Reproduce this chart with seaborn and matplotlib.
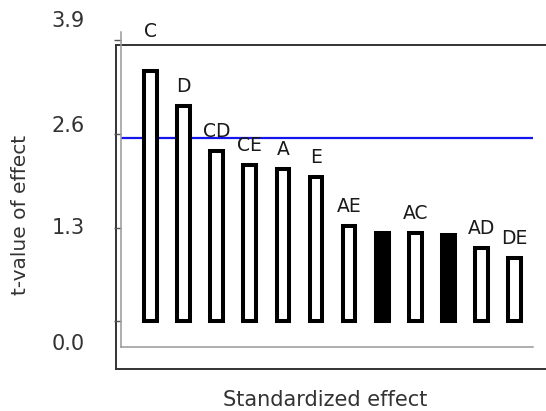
import matplotlib
matplotlib.use("Agg")
import matplotlib.pyplot as plt
import matplotlib.transforms as mtransforms
import seaborn as sns
import pandas as pd

# ---- data ----
effects = ["C", "D", "CD", "CE", "A", "E", "AE", "", "AC", "", "AD", "DE"]
t_values = [3.47, 2.99, 2.37, 2.17, 2.12, 2.01, 1.33, 1.23, 1.23, 1.20, 1.02, 0.88]
filled = [False, False, False, False, False, False, False, True, False, True, False, False]
threshold = 2.545
ytick_values = [0.0, 1.3, 2.6, 3.9]
ytick_labels = ["0.0", "1.3", "2.6", "3.9"]

sns.set_style("white")
plt.rcParams["font.family"] = ["DejaVu Sans"]

W, H = 546, 411
fig = plt.figure(figsize=(W / 100, H / 100), dpi=100)

def box(l, t, r, b):
    return [l / W, 1 - b / H, (r - l) / W, (b - t) / H]

# outer frame axes
outer = fig.add_axes(box(116, 45, 560, 369))
outer.set_xticks([])
outer.set_yticks([])
for s in ["left", "top", "bottom"]:
    outer.spines[s].set_color("#333333")
    outer.spines[s].set_linewidth(1.4)
outer.spines["right"].set_visible(False)
outer.patch.set_alpha(0)

# inner chart axes
ax = fig.add_axes(box(121, 31.7, 533, 347))
ax.patch.set_alpha(0)
df = pd.DataFrame({"pos": range(len(t_values)), "t": t_values})
sns.barplot(data=df, x="pos", y="t", ax=ax, color="white", width=0.39,
            edgecolor="black", linewidth=2.9, saturation=1, native_scale=True)
for patch, f in zip(ax.patches, filled):
    if f:
        patch.set_facecolor("black")
ax.axhline(threshold, color="#1515ee", lw=1.6, zorder=0.5)
ax.set_xlim(-0.902, 11.568)
ax.set_ylim(-0.354, 4.019)

label_font = dict(fontsize=13.5, family="Liberation Sans Narrow", color="#1a1a1a")
top_idx = max(range(len(t_values)), key=lambda k: t_values[k])
for i, (lab, v) in enumerate(zip(effects, t_values)):
    if not lab:
        continue
    if i == top_idx:
        # label of the tallest bar sits at the top edge of the plot area
        tr = mtransforms.blended_transform_factory(ax.transData, ax.transAxes)
        ax.text(i, 1.0, lab, transform=tr, ha="center", va="center", **label_font)
    else:
        ax.annotate(lab, (i, v), xytext=(0, 7), textcoords="offset points",
                    ha="center", va="bottom", **label_font)

ax.set_xticks([])
ax.set_yticks(ytick_values)
ax.set_yticklabels([])
ax.tick_params(axis="y", direction="out", length=5, width=1, color="#555555", left=True)
for s in ["top", "right"]:
    ax.spines[s].set_visible(False)
for s in ["left", "bottom"]:
    ax.spines[s].set_color("#999999")
    ax.spines[s].set_linewidth(1.1)
ax.set_xlabel("")
ax.set_ylabel("")

# outer tick labels (offset from inner scale as in reference)
label_offsets_px = [-23, 0, 8, 19]
for v, lab, dy in zip(ytick_values, ytick_labels, label_offsets_px):
    tr = mtransforms.blended_transform_factory(fig.transFigure, ax.transData)
    tr = tr + mtransforms.ScaledTranslation(0, dy / 100, fig.dpi_scale_trans)
    ax.text(85 / W, v, lab, transform=tr, ha="right", va="center",
            fontsize=15, color="#333333", clip_on=False)

fig.text(325 / W, 1 - 400 / H, "Standardized effect", ha="center", va="center",
         fontsize=15, color="#333333")
fig.text(21 / W, 1 - 215 / H, "t-value of effect", ha="center", va="center",
         rotation=90, fontsize=14.5, color="#333333")

fig.savefig("out.png", dpi=100)
